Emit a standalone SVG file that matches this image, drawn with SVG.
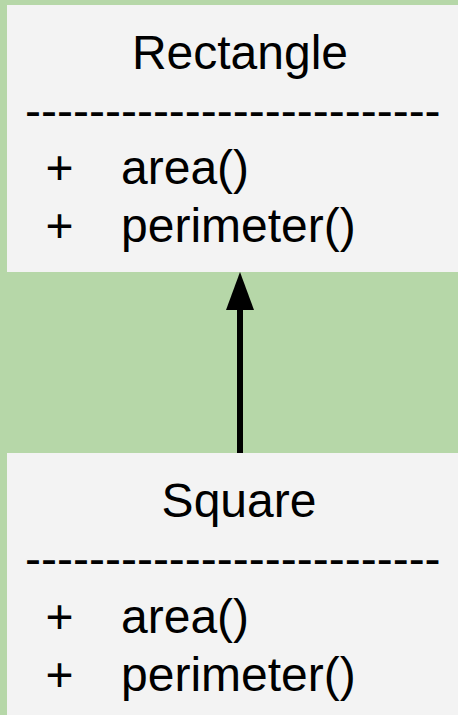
<svg xmlns="http://www.w3.org/2000/svg" width="458" height="715" viewBox="0 0 458 715">
  <defs>
    <style>
      .box { fill: #f3f3f3; }
      .t { font-family: "Liberation Sans", Arial, sans-serif; font-size: 48px; fill: #000; }
      .c { text-anchor: middle; }
    </style>
    <marker id="arrow" markerWidth="28" markerHeight="38" refX="14" refY="0" orient="auto-start-reverse" markerUnits="userSpaceOnUse" viewBox="0 0 28 38">
      <path d="M0,38 L14,0 L28,38 Z" fill="#000"/>
    </marker>
  </defs>
  <rect x="0" y="0" width="458" height="715" fill="#b6d7a8"/>
  <g id="connectors">
    <line x1="240" y1="453" x2="240" y2="308" stroke="#000" stroke-width="6"/>
    <path d="M226,310 L240,272 L254,310 Z" fill="#000"/>
  </g>
  <g id="rectangle">
    <rect class="box" x="7" y="5" width="451" height="267"/>
    <text class="t c" x="240" y="69">Rectangle</text>
    <text class="t" x="25" y="126.5">--------------------------</text>
    <text class="t" x="45.6" y="184">+</text>
    <text class="t" x="121" y="184">area()</text>
    <text class="t" x="45.6" y="242">+</text>
    <text class="t" x="121" y="242">perimeter()</text>
  </g>
  <g id="square">
    <rect class="box" x="7" y="453" width="451" height="262"/>
    <text class="t c" x="239" y="517">Square</text>
    <text class="t" x="25" y="575">--------------------------</text>
    <text class="t" x="45.6" y="633">+</text>
    <text class="t" x="121" y="633">area()</text>
    <text class="t" x="45.6" y="691">+</text>
    <text class="t" x="121" y="691">perimeter()</text>
  </g>
</svg>
